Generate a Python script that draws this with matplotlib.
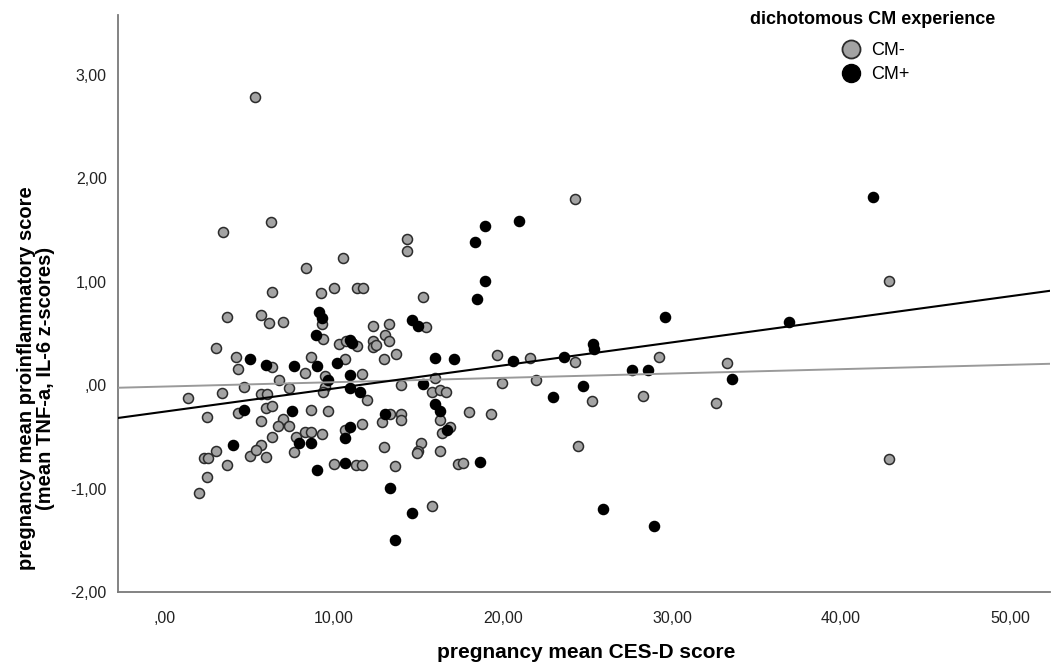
import matplotlib
matplotlib.use("Agg")
import matplotlib.pyplot as plt
from matplotlib.lines import Line2D
from matplotlib.ticker import FuncFormatter
import numpy as np

plt.rcParams['font.family'] = ['Liberation Sans', 'DejaVu Sans']

# CES-D score (x) and proinflammatory score (y), CM- group
cm_neg_x = [5.33, 3.45, 6.25, 14.30, 14.30, 10.51, 8.34, 6.33, 9.25, 10.00,
            11.34, 11.70, 15.25, 3.67, 5.68, 6.15, 6.98, 9.32, 15.44, 12.31,
            13.28, 9.35, 12.99, 3.02, 10.31, 10.71, 11.34, 12.31, 12.31, 12.49,
            13.28, 13.65, 12.98, 4.23, 4.35, 6.36, 8.64, 8.31, 10.67, 11.66,
            6.76, 15.95, 13.98, 4.67, 7.32, 9.47, 9.44, 9.33, 11.97, 1.34,
            3.36, 5.68, 6.02, 5.99, 6.33, 15.83, 16.27, 16.63, 2.50, 4.32,
            8.64, 9.66, 5.68, 7.00, 6.67, 7.34, 13.31, 12.84, 13.99, 13.99,
            16.30, 16.42, 16.86, 10.65, 11.66, 6.35, 7.75, 8.30, 8.66, 9.32,
            5.68, 12.98, 15.13, 14.96, 14.94, 16.27, 3.01, 2.29, 2.53, 5.01,
            5.36, 5.99, 7.64, 3.66, 2.50, 1.99, 9.98, 11.30, 11.66, 13.64,
            15.83, 17.34, 17.63, 19.64, 21.60, 19.94, 21.95, 17.99, 19.29, 24.26,
            25.27, 24.44, 24.26, 29.23, 28.28, 42.84, 33.25, 32.60, 42.84]
cm_neg_y = [2.79, 1.48, 1.58, 1.41, 1.30, 1.23, 1.13, 0.90, 0.89, 0.94,
            0.94, 0.94, 0.85, 0.66, 0.68, 0.60, 0.61, 0.59, 0.56, 0.57,
            0.59, 0.45, 0.49, 0.36, 0.40, 0.43, 0.38, 0.43, 0.37, 0.39,
            0.43, 0.30, 0.25, 0.27, 0.16, 0.18, 0.27, 0.12, 0.25, 0.11,
            0.05, 0.07, 0.00, -0.02, -0.03, 0.09, -0.02, -0.07, -0.14, -0.12,
            -0.08, -0.09, -0.09, -0.22, -0.20, -0.07, -0.05, -0.07, -0.31, -0.27,
            -0.24, -0.25, -0.35, -0.33, -0.39, -0.39, -0.28, -0.36, -0.28, -0.34,
            -0.34, -0.46, -0.40, -0.43, -0.38, -0.50, -0.50, -0.45, -0.45, -0.47,
            -0.58, -0.60, -0.56, -0.64, -0.66, -0.64, -0.64, -0.70, -0.70, -0.68,
            -0.63, -0.69, -0.65, -0.77, -0.89, -1.04, -0.76, -0.77, -0.77, -0.78,
            -1.17, -0.76, -0.75, 0.29, 0.26, 0.02, 0.05, -0.26, -0.28, 0.22,
            -0.15, -0.59, 1.80, 0.27, -0.10, 1.01, 0.21, -0.17, -0.71]

# CM+ group
cm_pos_x = [9.09, 9.29, 14.64, 14.99, 8.96, 10.95, 11.08, 5.01, 5.96, 7.66,
            8.98, 10.15, 10.96, 9.67, 15.98, 17.13, 15.28, 10.95, 11.52, 15.98,
            16.30, 4.67, 7.50, 12.99, 16.66, 10.96, 10.65, 7.93, 8.66, 4.01,
            9.01, 10.65, 13.31, 14.63, 13.63, 20.95, 18.93, 18.34, 18.93, 18.46,
            29.59, 25.33, 25.38, 20.59, 23.61, 28.58, 27.63, 24.73, 22.96, 18.64,
            25.92, 28.93, 41.89, 36.92, 33.55]
cm_pos_y = [0.71, 0.65, 0.63, 0.57, 0.49, 0.44, 0.41, 0.25, 0.20, 0.19,
            0.19, 0.21, 0.10, 0.05, 0.26, 0.25, 0.01, -0.03, -0.07, -0.18,
            -0.25, -0.24, -0.25, -0.28, -0.43, -0.40, -0.51, -0.56, -0.56, -0.58,
            -0.82, -0.75, -0.99, -1.24, -1.50, 1.59, 1.54, 1.38, 1.01, 0.83,
            0.66, 0.40, 0.35, 0.23, 0.27, 0.15, 0.15, -0.01, -0.11, -0.74,
            -1.20, -1.36, 1.82, 0.61, 0.06]

# fit lines (intercept, slope)
fit_neg = [-0.013, 0.0042]
fit_pos = [-0.255, 0.0223]

group_labels = ['CM-', 'CM+']
legend_title = 'dichotomous CM experience'
x_ticks = [0, 10, 20, 30, 40, 50]
y_ticks = [-2, -1, 0, 1, 2, 3]

GRAY = '#a3a3a3'


def coma(v, pos=None):
    s = f"{v:.2f}".replace('.', ',')
    if s.startswith('0'):
        s = s[1:]
    return s


fig = plt.figure(figsize=(10.51, 6.69), dpi=100)
ax = fig.add_axes([118 / 1051, 1 - 592 / 669, 932 / 1051, 577 / 669])

xlim = (-2.78, 52.37)
ax.set_xlim(*xlim)
ax.set_ylim(-1.98, 3.58)

ax.scatter(cm_neg_x, cm_neg_y, s=52, c=GRAY, edgecolors='#2b2b2b',
           linewidths=1.1, zorder=2)
ax.scatter(cm_pos_x, cm_pos_y, s=52, c='black', edgecolors='black',
           linewidths=1.1, zorder=3)

xs = np.array(xlim)
ax.plot(xs, fit_neg[0] + fit_neg[1] * xs, color='#9a9a9a', lw=1.4, zorder=4)
ax.plot(xs, fit_pos[0] + fit_pos[1] * xs, color='black', lw=1.5, zorder=4)

for s in ['top', 'right']:
    ax.spines[s].set_visible(False)
for s in ['left', 'bottom']:
    ax.spines[s].set_color('#7a7a7a')
    ax.spines[s].set_linewidth(1.3)

ax.set_xticks(x_ticks)
ax.set_yticks(y_ticks)
ax.xaxis.set_major_formatter(FuncFormatter(coma))
ax.yaxis.set_major_formatter(FuncFormatter(coma))
ax.tick_params(length=0, labelsize=11.5, labelcolor='#222222')
ax.tick_params(axis='x', pad=14)
ax.tick_params(axis='y', pad=8)

ax.set_xlabel('pregnancy mean CES-D score', fontsize=15, fontweight='bold')
ax.xaxis.set_label_coords(0.502, -0.089)
ax.set_ylabel('pregnancy mean proinflammatory score\n(mean TNF-a, IL-6 z-scores)',
              fontsize=14.5, fontweight='bold', linespacing=1.0)
ax.yaxis.set_label_coords(-0.068, 0.37)

# legend: title as its own text, entries centred below it
fig.text(873 / 1051, 1 - 19 / 669, legend_title, ha='center', va='center',
         fontsize=13, fontweight='bold')
handles = [Line2D([], [], ls='', marker='o', markersize=13, markerfacecolor=GRAY,
                  markeredgecolor='#2b2b2b', markeredgewidth=1.3),
           Line2D([], [], ls='', marker='o', markersize=13, markerfacecolor='black',
                  markeredgecolor='black')]
ax.legend(handles, group_labels, loc='upper left',
          bbox_to_anchor=(833 / 1051, 1 - 33 / 669),
          bbox_transform=fig.transFigure, frameon=False, fontsize=13,
          handlelength=1.0, handletextpad=0.6, labelspacing=0.38,
          borderpad=0)

fig.savefig('out.png', dpi=100, facecolor='white')
